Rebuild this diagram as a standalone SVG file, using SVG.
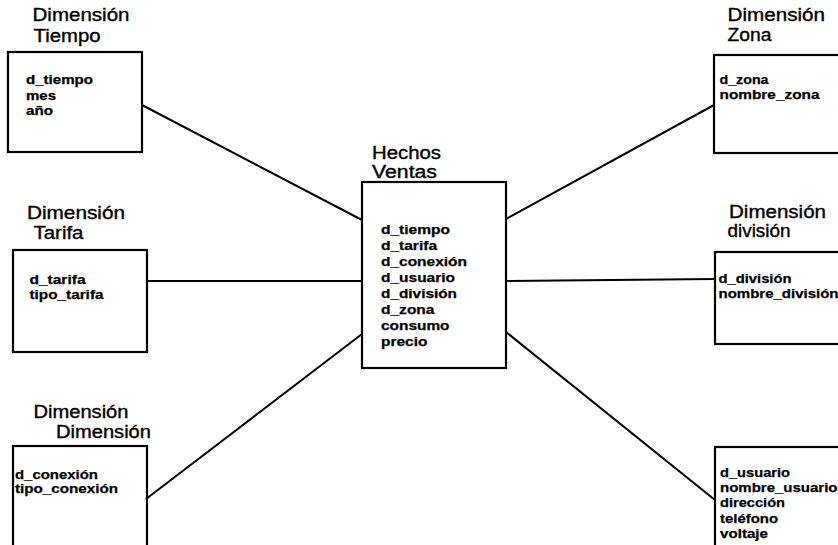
<svg xmlns="http://www.w3.org/2000/svg" width="838" height="545" viewBox="0 0 838 545">
<style>
.box{fill:none;stroke:#000;stroke-width:2.2}
.ln{stroke:#000;stroke-width:2;fill:none}
.t{font-family:"Liberation Sans",Arial,Helvetica,sans-serif;font-size:17.5px;fill:#000;stroke:#000;stroke-width:0.35}
.f{font-family:"Liberation Sans",Arial,Helvetica,sans-serif;font-size:12.5px;font-weight:bold;fill:#000;stroke:#000;stroke-width:0.25}
</style>
<rect width="838" height="545" fill="#fff"/>
<g id="connectors">
<line class="ln" x1="142" y1="105" x2="362" y2="220"/>
<line class="ln" x1="147" y1="281" x2="362" y2="281"/>
<line class="ln" x1="146" y1="499" x2="362" y2="334"/>
<line class="ln" x1="506" y1="219" x2="714" y2="105"/>
<line class="ln" x1="506" y1="281" x2="715" y2="279"/>
<line class="ln" x1="506" y1="332" x2="715" y2="500"/>
</g>
<g id="dim_tiempo">
<text class="t" x="32.5" y="21" textLength="97" lengthAdjust="spacingAndGlyphs">Dimensión</text>
<text class="t" x="33.5" y="42" textLength="67" lengthAdjust="spacingAndGlyphs">Tiempo</text>
<rect class="box" x="8" y="52" width="134" height="100"/>
<text class="f" x="26" y="84" textLength="67" lengthAdjust="spacingAndGlyphs">d_tiempo</text>
<text class="f" x="26" y="99.5" textLength="30" lengthAdjust="spacingAndGlyphs">mes</text>
<text class="f" x="26" y="115" textLength="27" lengthAdjust="spacingAndGlyphs">año</text>
</g>
<g id="dim_tarifa">
<text class="t" x="27" y="219" textLength="98" lengthAdjust="spacingAndGlyphs">Dimensión</text>
<text class="t" x="33.5" y="239" textLength="50" lengthAdjust="spacingAndGlyphs">Tarifa</text>
<rect class="box" x="13" y="250" width="134" height="102"/>
<text class="f" x="29.5" y="283.5" textLength="56" lengthAdjust="spacingAndGlyphs">d_tarifa</text>
<text class="f" x="29.5" y="298.5" textLength="74" lengthAdjust="spacingAndGlyphs">tipo_tarifa</text>
</g>
<g id="dim_conexion">
<text class="t" x="33.5" y="418" textLength="95" lengthAdjust="spacingAndGlyphs">Dimensión</text>
<text class="t" x="56" y="438" textLength="95" lengthAdjust="spacingAndGlyphs">Dimensión</text>
<rect class="box" x="13" y="446" width="134" height="120"/>
<text class="f" x="15" y="478.5" textLength="83" lengthAdjust="spacingAndGlyphs">d_conexión</text>
<text class="f" x="15" y="492.5" textLength="103" lengthAdjust="spacingAndGlyphs">tipo_conexión</text>
</g>
<g id="hechos_ventas">
<text class="t" x="372" y="159" textLength="69" lengthAdjust="spacingAndGlyphs">Hechos</text>
<text class="t" x="372" y="178" textLength="65" lengthAdjust="spacingAndGlyphs">Ventas</text>
<rect class="box" x="362" y="182" width="144" height="186"/>
<text class="f" x="381" y="233.5" textLength="69" lengthAdjust="spacingAndGlyphs">d_tiempo</text>
<text class="f" x="381" y="249.5" textLength="56" lengthAdjust="spacingAndGlyphs">d_tarifa</text>
<text class="f" x="381" y="265.5" textLength="86" lengthAdjust="spacingAndGlyphs">d_conexión</text>
<text class="f" x="381" y="281.5" textLength="74" lengthAdjust="spacingAndGlyphs">d_usuario</text>
<text class="f" x="381" y="297.5" textLength="76" lengthAdjust="spacingAndGlyphs">d_división</text>
<text class="f" x="381" y="313.5" textLength="53.5" lengthAdjust="spacingAndGlyphs">d_zona</text>
<text class="f" x="381" y="329.5" textLength="68.5" lengthAdjust="spacingAndGlyphs">consumo</text>
<text class="f" x="381" y="345.5" textLength="46.5" lengthAdjust="spacingAndGlyphs">precio</text>
</g>
<g id="dim_zona">
<text class="t" x="727.5" y="21" textLength="97.5" lengthAdjust="spacingAndGlyphs">Dimensión</text>
<text class="t" x="727.5" y="40.5" textLength="44" lengthAdjust="spacingAndGlyphs">Zona</text>
<rect class="box" x="714" y="55" width="200" height="98"/>
<text class="f" x="719.5" y="83.5" textLength="49" lengthAdjust="spacingAndGlyphs">d_zona</text>
<text class="f" x="719.5" y="98.5" textLength="100" lengthAdjust="spacingAndGlyphs">nombre_zona</text>
</g>
<g id="dim_division">
<text class="t" x="729" y="217.5" textLength="97" lengthAdjust="spacingAndGlyphs">Dimensión</text>
<text class="t" x="727.5" y="237" textLength="63" lengthAdjust="spacingAndGlyphs">división</text>
<rect class="box" x="715" y="252" width="200" height="92"/>
<text class="f" x="718.5" y="283" textLength="73" lengthAdjust="spacingAndGlyphs">d_división</text>
<text class="f" x="718.5" y="297.5" textLength="120" lengthAdjust="spacingAndGlyphs">nombre_división</text>
</g>
<g id="dim_usuario">
<rect class="box" x="715" y="447" width="200" height="120"/>
<text class="f" x="720" y="477" textLength="70" lengthAdjust="spacingAndGlyphs">d_usuario</text>
<text class="f" x="720" y="492" textLength="117.5" lengthAdjust="spacingAndGlyphs">nombre_usuario</text>
<text class="f" x="720" y="507" textLength="65" lengthAdjust="spacingAndGlyphs">dirección</text>
<text class="f" x="720" y="522.5" textLength="58" lengthAdjust="spacingAndGlyphs">teléfono</text>
<text class="f" x="720" y="538" textLength="48" lengthAdjust="spacingAndGlyphs">voltaje</text>
</g>
</svg>
